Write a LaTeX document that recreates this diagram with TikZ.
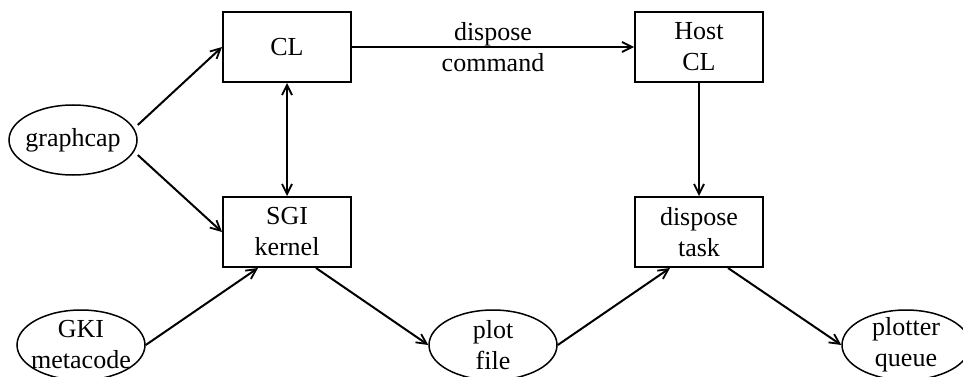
\documentclass[tikz,border=0pt]{standalone}
\usepackage{fontspec}
\setmainfont{Liberation Serif}
\usetikzlibrary{arrows.meta,shapes.geometric}
\tikzset{
  txt/.style={font=\fontsize{26}{31}\selectfont, align=center},
  boxnode/.style={draw, line width=2pt, minimum width=128pt, minimum height=70pt, inner sep=0pt, txt},
  ovalnode/.style={draw, ellipse, line width=1.5pt, minimum width=128pt, minimum height=70pt, inner sep=0pt},
  tip/.tip={Straight Barb[length=10pt,width=10pt,line width=1.8pt]},
  conn/.style={line width=2pt, -tip},
  biconn/.style={line width=2pt, tip-tip},
}
\begin{document}
\begin{tikzpicture}[x=1pt,y=-1pt]
\useasboundingbox (0,0) rectangle (963,377);
\clip (0,0) rectangle (963,377);
\node[boxnode] (cl) at (287,47) {CL};
\node[boxnode] (sgi) at (287,232) {SGI\\kernel};
\node[boxnode] (host) at (699,47) {Host\\CL};
\node[boxnode] (task) at (699,232) {dispose\\task};
\node[ovalnode] (gcap) at (73,140) {};
\node[txt] (gcapt) at (gcap.center) {graphcap};
\node[ovalnode] (gki) at (81,345) {};
\node[txt] (gkit) at (gki.center) {GKI\\metacode};
\node[ovalnode] (plot) at (493,345) {};
\node[txt] (plott) at (plot.center) {plot\\file};
\node[ovalnode] (queue) at (906,345) {};
\node[txt] (queuet) at (queue.center) {plotter\\queue};

\draw[conn] ([yshift=15pt]gcap.east) -- (cl.west);
\draw[conn] ([yshift=-15pt]gcap.east) -- (sgi.west);
\draw[biconn] (cl.south) -- (sgi.north);
\draw[conn] (cl.east) -- node[txt] (lab) {dispose\\command} (host.west);
\draw[conn] (host.south) -- (task.north);
\draw[conn] (gki.east) -- ([xshift=-29pt]sgi.south);
\draw[conn] ([xshift=29pt]sgi.south) -- (plot.west);
\draw[conn] (plot.east) -- ([xshift=-29pt]task.south);
\draw[conn] ([xshift=29pt]task.south) -- (queue.west);
\end{tikzpicture}
\end{document}
